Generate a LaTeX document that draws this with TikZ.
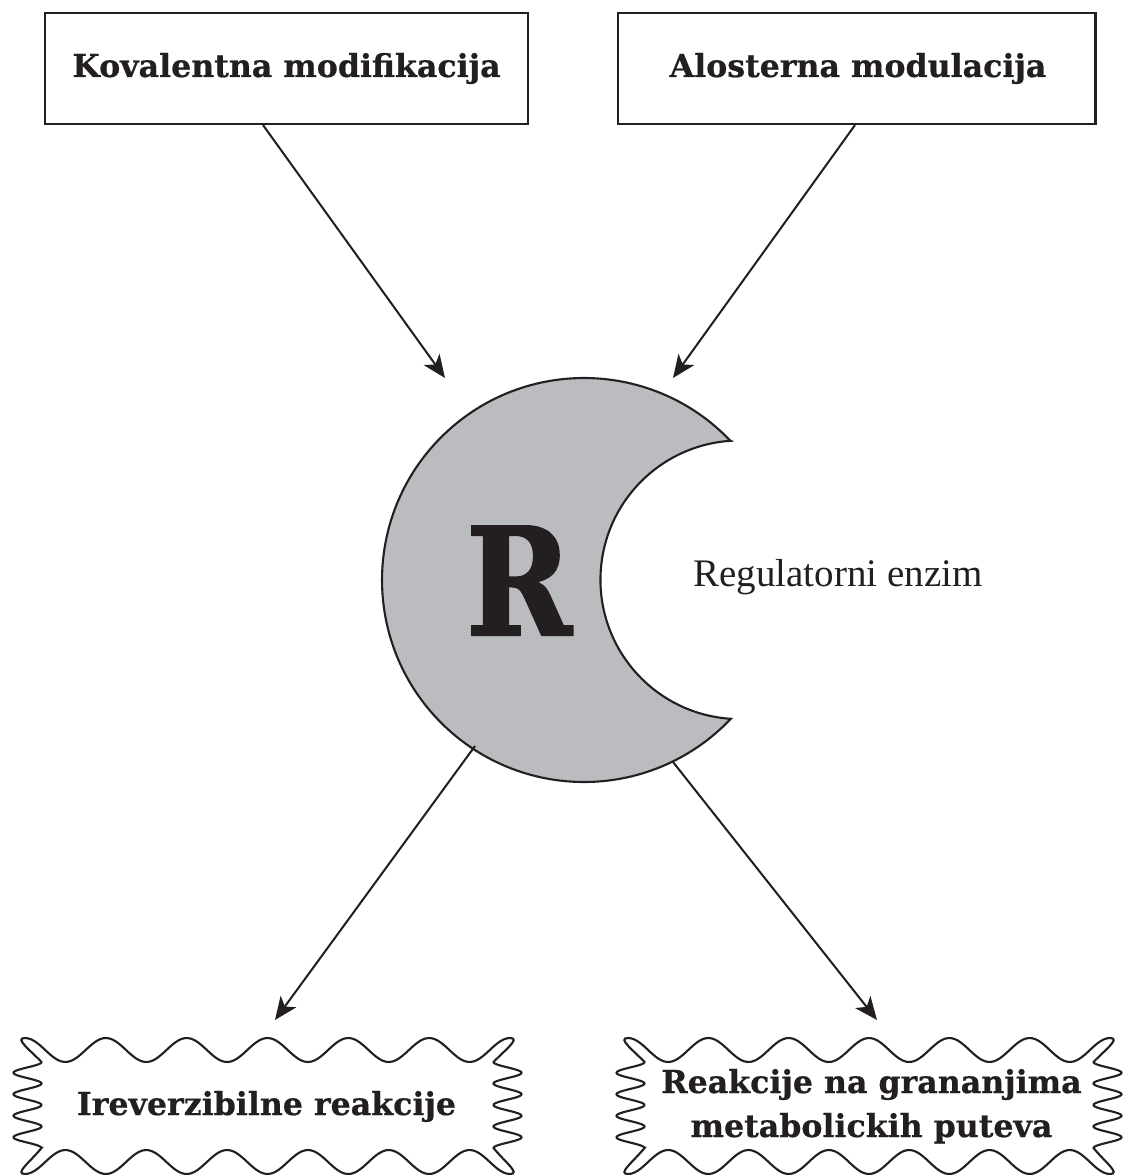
\documentclass[tikz,border=0pt]{standalone}
\usepackage{fontspec}
\setmainfont{Liberation Serif}
\newfontfamily\slab{DejaVu Serif}[FakeBold=0.6]
\newfontfamily\slabr{DejaVu Serif}[FakeStretch=0.85,FakeBold=1.5]
\usetikzlibrary{arrows.meta,calc}
\definecolor{ink}{HTML}{231F20}
\definecolor{enz}{HTML}{BBBCC0}
\tikzset{
  boxed/.style={draw=ink, line width=1.2pt, minimum height=2.22cm, inner sep=0pt},
  btext/.style={text=ink, font=\slab\bfseries\fontsize{18}{22}\selectfont},
  arr/.style={draw=ink, line width=1.15pt, -{Stealth[length=13pt,width=11pt,inset=3.5pt]}},
  wavy/.style={draw=ink, line width=1.2pt},
}
% wavy box: #1 = left tip x, #2 = right tip x
\newcommand{\wavyoutline}[2]{%
  \pgfmathsetmacro{\wK}{2160/((#2)-(#1))}%
  \draw[wavy] (#1,1038)
    -- plot[domain=#1:#2, samples=150, smooth] (\x,{1050-12*cos(\wK*(\x-(#1)))})
    .. controls (#2+11,1038) and (#2-5,1050) .. (#2-16.5,1062)
    -- plot[domain=1062:1148, samples=120, smooth, variable=\t] ({#2-2.5-14*cos(16.744*(\t-1062))},\t)
    .. controls (#2-5,1162) and (#2+11,1174) .. (#2,1174)
    -- plot[domain=#2:#1, samples=150, smooth] (\x,{1162+12*cos(\wK*(\x-(#1)))})
    .. controls (#1-11,1174) and (#1+5,1162) .. (#1+16.5,1148)
    -- plot[domain=1148:1062, samples=120, smooth, variable=\t] ({#1+2.5+14*cos(16.744*(\t-1062))},\t)
    .. controls (#1+5,1050) and (#1-11,1038) .. (#1,1038) -- cycle;%
}
\begin{document}
\begin{tikzpicture}[x=0.02cm,y=-0.02cm]
\useasboundingbox (0,0) rectangle (1125,1175);
% top boxes
\node[boxed, minimum width=9.66cm] (k) at (286.5,68.5) {};
\node[btext, anchor=base] (kt) at (286.5,77) {Kovalentna modifikacija};
\node[boxed, minimum width=9.56cm] (a) at (856.5,68.5) {};
\node[btext, anchor=base] (at) at (858,77) {Alosterna modulacija};
% enzyme crescent
\draw[ink, fill=enz, line width=1.2pt] (729.8,440.2)
  arc[start angle=-43.8, end angle=-316.6, radius=202]
  arc[start angle=93.7, end angle=266.3, radius=139.3] -- cycle;
\node[text=ink, anchor=base, font=\slabr\bfseries\fontsize{85}{90}\selectfont] (r) at (519,635) {R};
\node[text=ink, anchor=base west, font=\fontsize{22.2}{26}\selectfont, inner sep=0pt] (lbl) at (693,586) {Regulatorni enzim};
\coordinate (kin) at (445,378);
\coordinate (ain) at (673,378);
\coordinate (out1) at (475,746);
\coordinate (out2) at (673,762);
% wavy boxes
\wavyoutline{25}{510}
\wavyoutline{628}{1110}
\node[btext, anchor=base] (irr) at (266.5,1115) {Ireverzibilne reakcije};
\node[btext, anchor=base] (gr1) at (871.5,1093) {Reakcije na grananjima};
\node[btext, anchor=base] (gr2) at (871.5,1137) {metabolickih puteva};
\coordinate (irrin) at (275,1020);
\coordinate (grin) at (877,1020);
% connectors
\draw[arr] ($(k.south)+(-23.5,0)$) -- (kin);
\draw[arr] ($(a.south)+(-1.5,0)$) -- (ain);
\draw[arr] (out1) -- (irrin);
\draw[arr] (out2) -- (grin);
\end{tikzpicture}
\end{document}
